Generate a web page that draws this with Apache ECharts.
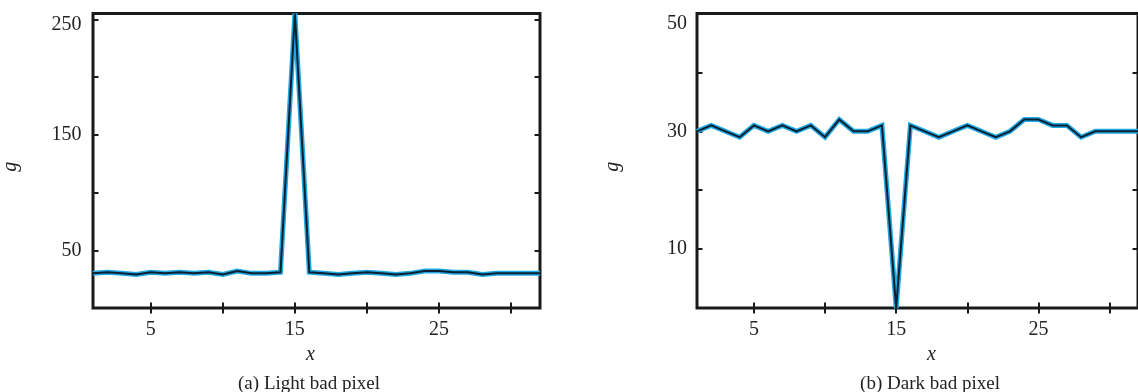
<!DOCTYPE html>
<html>
<head>
<meta charset="utf-8">
<script src="https://cdn.jsdelivr.net/npm/echarts@6/dist/echarts.min.js"></script>
<style>
  html, body { margin: 0; padding: 0; background: #ffffff; }
  #chart { width: 1138px; height: 392px; }
</style>
</head>
<body>
<div id="chart"></div>
<script>
// Pixel positions along the row
const xPositions = [1, 2, 3, 4, 5, 6, 7, 8, 9, 10, 11, 12, 13, 14, 15, 16,
                    17, 18, 19, 20, 21, 22, 23, 24, 25, 26, 27, 28, 29, 30, 31, 32];

// Grey values with a light bad pixel at x = 15
const lightValues = [30, 31, 30, 29, 31, 30, 31, 30, 31, 29, 32, 30, 30, 31, 255, 31,
                     30, 29, 30, 31, 30, 29, 30, 32, 32, 31, 31, 29, 30, 30, 30, 30];

// Grey values with a dark bad pixel at x = 15
const darkValues = [30, 31, 30, 29, 31, 30, 31, 30, 31, 29, 32, 30, 30, 31, 0, 31,
                    30, 29, 30, 31, 30, 29, 30, 32, 32, 31, 31, 29, 30, 30, 30, 30];

// Tick marks and labelled ticks
const xTicks = [5, 10, 15, 20, 25, 30];
const xLabels = [5, 15, 25];
const lightYTicks = [50, 100, 150, 200, 250];
const lightYLabels = [50, 150, 250];
const darkYTicks = [10, 20, 30, 40, 50];
const darkYLabels = [10, 30, 50];

const captions = ['(a) Light bad pixel', '(b) Dark bad pixel'];

const SERIF = '"Liberation Serif", "DejaVu Serif", serif';
const INK = '#1a1a1a';
const LABEL_FONT = { fontFamily: SERIF, fontSize: 20, color: '#222' };

const chart = echarts.init(document.getElementById('chart'), null, { renderer: 'canvas' });

function toPoints(values) {
  return xPositions.map((x, i) => [x, values[i]]);
}

function tickStyle(values) {
  return {
    show: true, inside: true, length: 5.5, customValues: values,
    lineStyle: { color: INK, width: 2 }
  };
}

const grids = [
  { left: 91.5, top: 13.5, width: 448.5, height: 294.5 },
  { left: 697, top: 13.5, width: 448.5, height: 294.5 }
].map(g => Object.assign(g, {
  show: true, borderWidth: 3, borderColor: INK, backgroundColor: 'transparent',
  containLabel: false
}));

function xAxesFor(gridIndex, namePad) {
  return [
    {
      type: 'value', gridIndex, min: 1, max: 32, position: 'bottom',
      name: 'x', nameLocation: 'middle', nameGap: 37,
      nameTextStyle: Object.assign({ fontStyle: 'italic', padding: namePad }, LABEL_FONT),
      axisLine: { show: false }, splitLine: { show: false },
      axisTick: tickStyle(xTicks),
      axisLabel: Object.assign({ customValues: xLabels, margin: 12 }, LABEL_FONT)
    },
    {
      type: 'value', gridIndex, min: 1, max: 32, position: 'top',
      axisLine: { show: false }, splitLine: { show: false },
      axisTick: tickStyle(xTicks), axisLabel: { show: false }
    }
  ];
}

// The label at the top of the frame sits a little lower than its tick
function yAxesFor(gridIndex, max, ticks, labels, nameGap, labelMargin, topDrop) {
  const topLabel = labels[labels.length - 1];
  return [
    {
      type: 'value', gridIndex, min: 0, max, position: 'left',
      name: 'g', nameLocation: 'middle', nameGap, nameRotate: 90,
      nameTextStyle: Object.assign({ fontStyle: 'italic', padding: [0, 12, 0, 0] }, LABEL_FONT),
      axisLine: { show: false }, splitLine: { show: false },
      axisTick: tickStyle(ticks),
      axisLabel: Object.assign({
        customValues: labels, margin: labelMargin,
        formatter: v => (v === topLabel ? '{top|' + v + '}' : String(v)),
        rich: { top: Object.assign({ padding: [topDrop * 2, 0, 0, 0] }, LABEL_FONT) }
      }, LABEL_FONT)
    },
    {
      type: 'value', gridIndex, min: 0, max, position: 'right',
      axisLine: { show: false }, splitLine: { show: false },
      axisTick: tickStyle(ticks), axisLabel: { show: false }
    }
  ];
}

// Each profile is drawn twice: a light blue halo under a dark core line
function profileSeries(values, axisIndex) {
  const common = {
    type: 'line', xAxisIndex: axisIndex, yAxisIndex: axisIndex,
    data: toPoints(values), showSymbol: false, symbol: 'none',
    animation: false, silent: true, clip: true
  };
  return [
    Object.assign({}, common, { lineStyle: { color: '#1fa8e4', width: 5, join: 'miter' }, z: 2 }),
    Object.assign({}, common, { lineStyle: { color: '#0d1f2e', width: 2, join: 'miter' }, z: 3 })
  ];
}

const option = {
  backgroundColor: '#ffffff',
  animation: false,
  title: [
    { text: captions[0], left: 304, top: 370, textAlign: 'center',
      textStyle: { fontFamily: SERIF, fontSize: 19, fontWeight: 'normal', color: '#222' } },
    { text: captions[1], left: 925, top: 370, textAlign: 'center',
      textStyle: { fontFamily: SERIF, fontSize: 19, fontWeight: 'normal', color: '#222' } }
  ],
  grid: grids,
  xAxis: [].concat(xAxesFor(0, [0, 12, 0, 0]), xAxesFor(1, [0, 0, 0, 28])),
  yAxis: [].concat(
    yAxesFor(0, 255, lightYTicks, lightYLabels, 72, 11.5, 5),
    yAxesFor(1, 50, darkYTicks, darkYLabels, 74, 10, 10)
  ),
  series: [].concat(profileSeries(lightValues, 0), profileSeries(darkValues, 2))
};

chart.setOption(option);
</script>
</body>
</html>
